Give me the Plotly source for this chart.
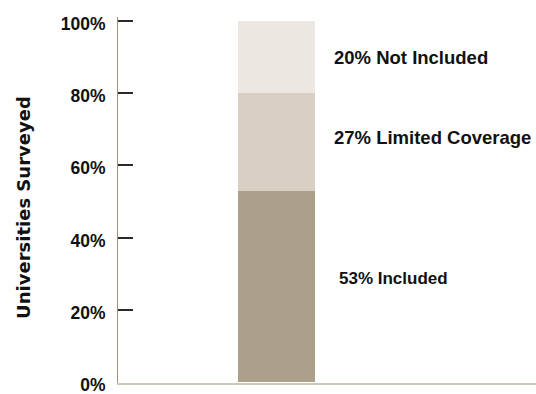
import plotly.graph_objects as go

category = ["Universities"]
segments = ["Included", "Limited Coverage", "Not Included"]
values = [53, 27, 20]
colors = ["#ada08b", "#d8d0c5", "#ece7e0"]
label_texts = ["53% Included", "27% Limited Coverage", "20% Not Included"]
tick_values = [0, 20, 40, 60, 80, 100]
tick_labels = ["0%", "20%", "40%", "60%", "80%", "100%"]
axis_title = "Universities Surveyed"

fig = go.Figure()
for name, v, c in zip(segments, values, colors):
    fig.add_trace(go.Bar(x=category, y=[v], name=name, marker=dict(color=c, line=dict(width=0)),
                         width=0.8, showlegend=False))

cum = 0
label_x = [0.524, 0.512, 0.512]
label_shift = [8, 4, -1]
label_size = [17, 18.5, 18.5]
for v, t, lx, ys, fs in zip(values, label_texts, label_x, label_shift, label_size):
    mid = cum + v / 2
    cum += v
    fig.add_annotation(x=lx, xref="paper", y=mid, yref="y", text="<b>" + t + "</b>", showarrow=False,
                       xanchor="left", yanchor="middle", yshift=ys,
                       font=dict(family="Liberation Sans, Arial", size=fs, color="#111111"))

# y-axis title
fig.add_annotation(x=-0.225, xref="paper", y=0.481, yref="paper", text="<b>" + axis_title + "</b>",
                   textangle=-90, showarrow=False, xanchor="center", yanchor="middle",
                   font=dict(family="DejaVu Sans", size=18, color="#111111"))

fig.update_layout(
    barmode="stack",
    width=536, height=394,
    margin=dict(l=118, r=0, t=17.4, b=11.3, autoexpand=False),
    paper_bgcolor="white", plot_bgcolor="white",
    font=dict(family="Liberation Sans, Arial", size=17, color="#111111"),
)
fig.update_xaxes(range=[-1.646, 2.697], showticklabels=False, ticks="", showgrid=False, zeroline=False,
                 showline=True, linecolor="#cdc8ba", linewidth=2, automargin=False)
fig.update_yaxes(range=[-0.2, 101], tickvals=tick_values, ticktext=["<b>" + s + "</b>" for s in tick_labels],
                 ticks="inside", ticklen=15,
                 tickwidth=1.5, tickcolor="#2a2a2a", showgrid=False, zeroline=False,
                 showline=True, linecolor="#9c8f7e", linewidth=1, automargin=False,
                 tickfont=dict(family="Liberation Sans, Arial", size=17.5, color="#111111"),
                 ticklabelstandoff=8, ticklabelshift=3, ticklabeloverflow="allow")

fig.write_html("out.html")
